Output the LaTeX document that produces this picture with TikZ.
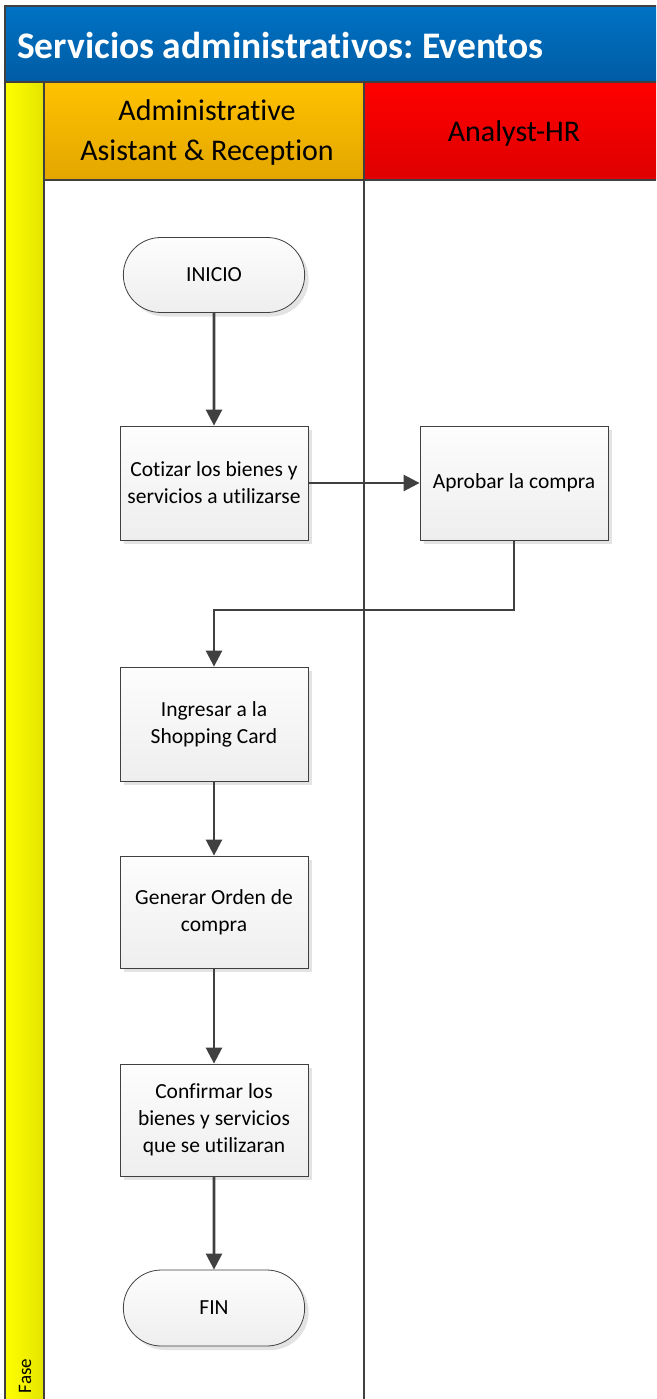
\documentclass[tikz,border=0pt]{standalone}
\usepackage{fontspec}
\setmainfont{Carlito}[Ligatures=NoCommon]
\usetikzlibrary{arrows.meta,shadows,shapes.misc}
\frenchspacing
\definecolor{frame}{RGB}{64,64,64}
\definecolor{titletop}{RGB}{0,114,196}
\definecolor{titlebot}{RGB}{0,92,164}
\definecolor{laneAtop}{RGB}{255,194,0}
\definecolor{laneAbot}{RGB}{226,166,0}
\definecolor{laneBtop}{RGB}{255,0,0}
\definecolor{laneBbot}{RGB}{222,0,0}
\definecolor{faseL}{RGB}{255,255,0}
\definecolor{faseR}{RGB}{228,228,0}
\definecolor{boxtop}{RGB}{253,253,253}
\definecolor{boxbot}{RGB}{238,238,238}
\definecolor{arrowc}{RGB}{64,64,64}
\tikzset{
  boxshadow/.style={drop shadow={shadow xshift=4pt,shadow yshift=-4pt,fill=black!11,opacity=1}},
  procbox/.style={draw=frame,line width=0.8pt,top color=boxtop,bottom color=boxbot,
    minimum width=188pt,minimum height=114pt,align=center,inner sep=4pt,
    font=\fontsize{21.5}{27}\selectfont,boxshadow},
  termbox/.style={draw=frame,line width=0.8pt,top color=boxtop,bottom color=boxbot,
    rounded rectangle,minimum width=188pt,minimum height=75pt,align=center,
    font=\fontsize{21.5}{27}\selectfont,boxshadow},
  flow/.style={draw=arrowc,line width=2.6pt,-{Triangle[length=16pt,width=16pt]}},
  laneline/.style={draw=frame,line width=1.6pt},
  lanetext/.style={font=\fontsize{30}{40}\selectfont,align=center}
}
\begin{document}
\begin{tikzpicture}[x=1pt,y=-1pt]
\useasboundingbox (0,0) rectangle (656,1399);
% title band
\shade[top color=titletop,bottom color=titlebot] (5,6) rectangle (656,82);
\node[anchor=west,text=white,font=\bfseries\fontsize{37.5}{44}\selectfont,inner sep=0pt] (title) at (17,45) {Servicios administrativos: Eventos};
% phase bar
\shade[left color=faseL,right color=faseR] (5,82) rectangle (44,1399);
\node[rotate=90,font=\fontsize{19}{22}\selectfont,inner sep=0pt] (fase) at (25,1376) {Fase};
% lane headers
\shade[top color=laneAtop,bottom color=laneAbot] (44,82) rectangle (364,180);
\shade[top color=laneBtop,bottom color=laneBbot] (364,82) rectangle (656,180);
\node[lanetext] (laneA) at (207,133) {Administrative\\Asistant \& Reception};
\node[lanetext] (laneB) at (514,134) {Analyst-HR};
% frame lines
\draw[laneline] (5,1399) -- (5,6) -- (656,6);
\draw[laneline] (5,82) -- (656,82);
\draw[laneline] (44,82) -- (44,1399);
\draw[laneline] (364,82) -- (364,1399);
\draw[laneline] (44,180) -- (656,180);
% flow nodes
\node[termbox] (inicio) at (214,275) {INICIO};
\node[procbox] (cotizar) at (214,483) {Cotizar los bienes y\\servicios a utilizarse};
\node[procbox] (aprobar) at (514,483) {Aprobar la compra};
\node[procbox] (ingresar) at (214,724) {Ingresar a la\\Shopping Card};
\node[procbox,minimum height=112pt] (generar) at (214,912) {Generar Orden de\\compra};
\node[procbox,minimum height=112pt] (confirmar) at (214,1120) {Confirmar los\\bienes y servicios\\que se utilizaran};
\node[termbox,minimum height=76pt] (fin) at (214,1308) {FIN};
% connectors
\coordinate (bend) at (514,610);
\draw[flow] (inicio) -- (cotizar);
\draw[flow] (cotizar) -- (aprobar);
\draw[flow] (aprobar.south) -- (bend) -| (ingresar.north);
\draw[flow] (ingresar) -- (generar);
\draw[flow] (generar) -- (confirmar);
\draw[flow] (confirmar) -- (fin);
\end{tikzpicture}
\end{document}
